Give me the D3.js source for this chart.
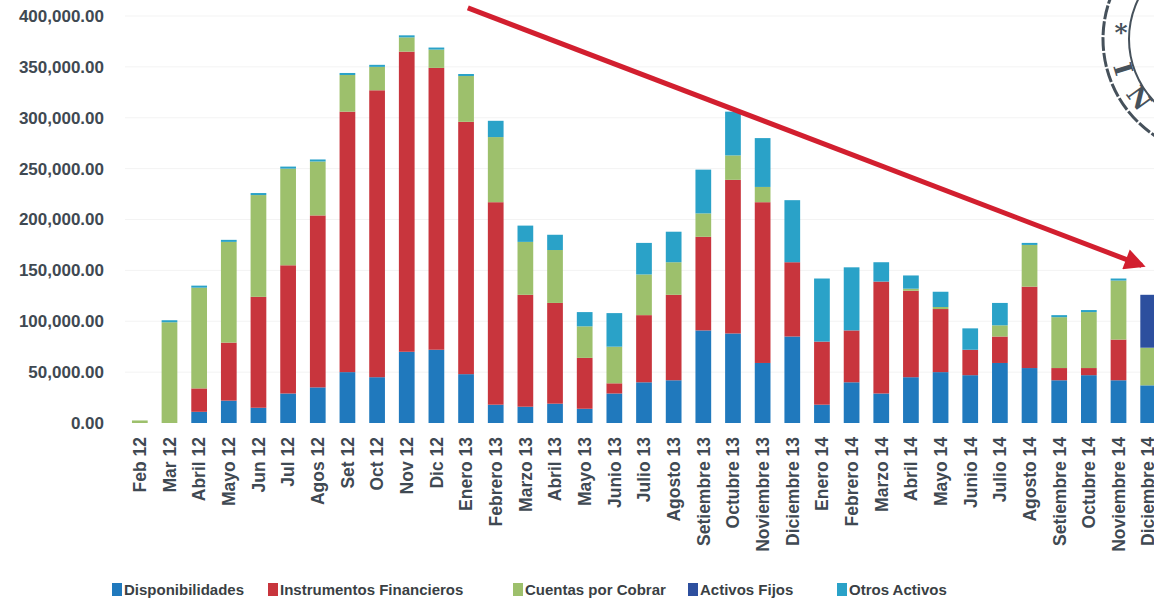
<!DOCTYPE html>
<html><head><meta charset="utf-8">
<script src="https://cdn.jsdelivr.net/npm/d3@7"></script>
<style>
html,body{margin:0;padding:0;background:#fff;}
svg{display:block;}
</style></head>
<body>
<svg id="chart" width="1154" height="610"></svg>
<script>
const categories = ["Feb 12","Mar 12","Abril 12","Mayo 12","Jun 12","Jul 12","Agos 12","Set 12","Oct 12","Nov 12","Dic 12","Enero 13","Febrero 13","Marzo 13","Abril 13","Mayo 13","Junio 13","Julio 13","Agosto 13","Setiembre 13","Octubre 13","Noviembre 13","Diciembre 13","Enero 14","Febrero 14","Marzo 14","Abril 14","Mayo 14","Junio 14","Julio 14","Agosto 14","Setiembre 14","Octubre 14","Noviembre 14","Diciembre 14"];

const disponibilidades = [0,0,11000,22000,15000,29000,35000,50000,45000,70000,72000,48000,18000,16000,19000,14000,29000,40000,42000,91000,88000,59000,85000,18000,40000,29000,45000,50000,47000,59000,54000,42000,47000,42000,37000];
const instrumentosFinancieros = [0,0,23000,57000,109000,126000,169000,256000,282000,295000,277000,248000,199000,110000,99000,50000,10000,66000,84000,92000,151000,158000,73000,62000,51000,110000,85000,62000,25000,26000,80000,12000,7000,40000,0];
const cuentasPorCobrar = [2500,99000,99000,99000,100000,95000,53000,36000,23000,14000,18000,45000,64000,52000,52000,31000,36000,40000,32000,23000,24000,15000,0,0,0,0,2000,2000,0,11000,41000,50000,55000,58000,37000];
const activosFijos = [0,0,0,0,0,0,0,0,0,0,0,0,0,0,0,0,0,0,0,0,0,0,0,0,0,0,0,0,0,0,0,0,0,0,52000];
const otrosActivos = [0,2000,2000,2000,2000,2000,2000,2000,2000,2000,2000,2000,16000,16000,15000,14000,33000,31000,30000,43000,43000,48000,61000,62000,62000,19000,13000,15000,21000,22000,2000,2000,2000,2000,0];

const seriesNames = ["Disponibilidades","Instrumentos Financieros","Cuentas por Cobrar","Activos Fijos","Otros Activos"];
const seriesColors = ["#2079bd","#c8353d","#9dc06c","#2d4f9e","#2aa2c8"];
const yTicks = [0,50000,100000,150000,200000,250000,300000,350000,400000];
// trend arrow annotation: [category index, value]
const trendStart = [11.06, 408000];
const trendEnd = [34.12, 151000];

const seriesValues = [disponibilidades, instrumentosFinancieros, cuentasPorCobrar, activosFijos, otrosActivos];
const table = categories.map((c,i)=>{
  const row = {cat:c};
  seriesNames.forEach((s,k)=>row[s]=seriesValues[k][i]);
  return row;
});

const svg = d3.select("#chart");
const x = d3.scaleBand().domain(categories).range([125,1163]).paddingInner(0.47).paddingOuter(0.235);
const y = d3.scaleLinear().domain([0,400000]).range([423,16]);
const color = d3.scaleOrdinal().domain(seriesNames).range(seriesColors);

// faint gridlines
svg.append("g").selectAll("line").data(yTicks.slice(1)).join("line")
  .attr("x1",125).attr("x2",1154)
  .attr("y1",d=>y(d)).attr("y2",d=>y(d))
  .attr("stroke","#f3f3f3").attr("stroke-width",1);

// y axis
const yAxis = svg.append("g").attr("transform","translate(104,0)")
  .call(d3.axisLeft(y).tickValues(yTicks).tickFormat(d3.format(",.2f")).tickSize(0).tickPadding(0));
yAxis.select(".domain").remove();
yAxis.selectAll("text")
  .attr("font-family","Liberation Sans, Arial, sans-serif")
  .attr("font-weight","bold").attr("font-size","17px").attr("fill","#3f4952");

// stacked bars
const stack = d3.stack().keys(seriesNames)(table);
svg.append("g").selectAll("g").data(stack).join("g")
  .attr("fill",d=>color(d.key))
  .selectAll("rect").data(d=>d).join("rect")
  .attr("x",d=>x(d.data.cat))
  .attr("width",x.bandwidth())
  .attr("y",d=>y(d[1]))
  .attr("height",d=>Math.max(0,y(d[0])-y(d[1])));

// x axis labels
const xAxis = svg.append("g").attr("transform","translate(0,437)")
  .call(d3.axisBottom(x).tickSize(0).tickPadding(0));
xAxis.select(".domain").remove();
xAxis.selectAll("text")
  .attr("transform","rotate(-90)")
  .attr("text-anchor","end")
  .attr("x",0).attr("y",0).attr("dy","0.36em")
  .attr("font-family","Liberation Sans, Arial, sans-serif")
  .attr("font-weight","bold").attr("font-size","17.5px").attr("fill","#3f4952");

// trend arrow
const idxX = i => x(categories[0]) + x.bandwidth()/2 + i*x.step();
svg.append("defs").append("marker")
  .attr("id","ah").attr("viewBox","0 0 10 10").attr("refX",8).attr("refY",5)
  .attr("markerWidth",5).attr("markerHeight",4.2).attr("orient","auto").attr("markerUnits","strokeWidth")
  .append("path").attr("d","M0,0 L10,5 L0,10 z").attr("fill","#d21f2f");
svg.append("line")
  .attr("x1",idxX(trendStart[0])).attr("y1",y(trendStart[1]))
  .attr("x2",idxX(trendEnd[0])-10).attr("y2",y(trendEnd[1])-4)
  .attr("stroke","#d21f2f").attr("stroke-width",5).attr("marker-end","url(#ah)");

// stamp (partial, top right)
const stamp = svg.append("g").attr("fill","none").attr("stroke","#46515b");
stamp.append("circle").attr("cx",1219).attr("cy",39).attr("r",116).attr("stroke-width",3).attr("stroke-dasharray","14,2");
stamp.append("circle").attr("cx",1219).attr("cy",39).attr("r",90).attr("stroke-width",2);
const stampText = [["*",1121,32,0],["I",1123,69,73],["N",1139,98,54]];
svg.append("g").selectAll("text").data(stampText).join("text")
  .attr("transform",d=>`translate(${d[1]},${d[2]}) rotate(${d[3]})`)
  .attr("text-anchor","middle").attr("dy","0.35em")
  .attr("font-family","DejaVu Serif, Liberation Serif, serif").attr("font-weight","bold")
  .attr("font-size","25px").attr("fill","#46515b")
  .text(d=>d[0]);

// legend
const legendX = [112,268,513,688,837];
const lg = svg.append("g").selectAll("g").data(seriesNames).join("g")
  .attr("transform",(d,i)=>`translate(${legendX[i]},590)`);
lg.append("rect").attr("x",0).attr("y",-7).attr("width",10).attr("height",13).attr("fill",d=>color(d));
lg.append("text").attr("x",12).attr("y",0).attr("dy","0.35em")
  .attr("font-family","Liberation Sans, Arial, sans-serif").attr("font-weight","bold")
  .attr("font-size","15px").attr("fill","#3a3f44").text(d=>d);
</script>
</body></html>
